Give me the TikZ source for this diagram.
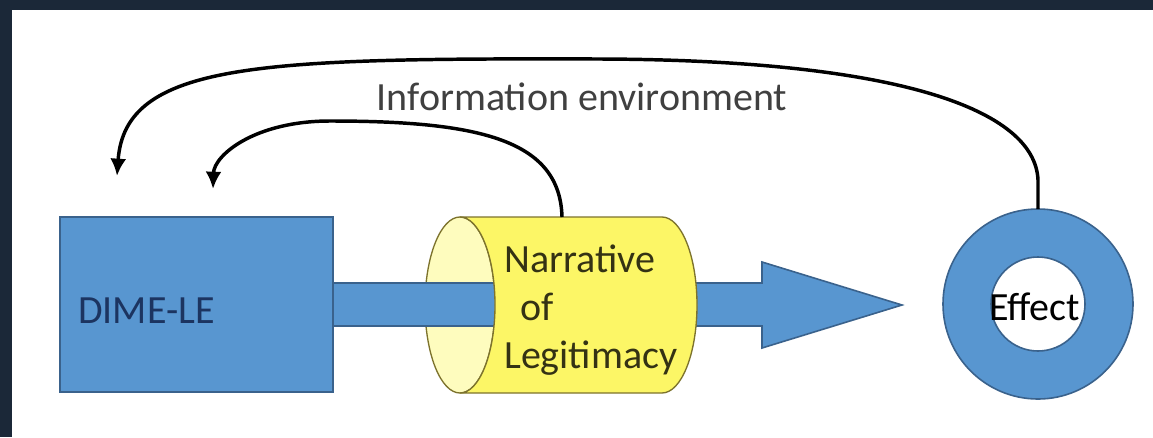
\documentclass[tikz,border=0pt]{standalone}
\usepackage{fontspec}
\setmainfont{Carlito}
\usetikzlibrary{arrows.meta}

\definecolor{frameNavy}{RGB}{27,40,56}
\definecolor{boxBlue}{RGB}{88,150,208}
\definecolor{boxEdge}{RGB}{58,98,140}
\definecolor{cylBody}{RGB}{252,246,102}
\definecolor{cylFace}{RGB}{254,252,190}
\definecolor{cylEdge}{RGB}{125,115,45}
\definecolor{dimeInk}{RGB}{28,52,96}
\definecolor{narrInk}{RGB}{52,50,20}
\definecolor{infoInk}{RGB}{64,64,64}

\tikzset{
  label30/.style={inner sep=0.75pt, font=\fontsize{30}{36}\selectfont},
  loopline/.style={line width=2.6pt, black, -{Latex[length=13pt,width=12pt]}}
}

\begin{document}
\begin{tikzpicture}[x=0.75pt,y=0.75pt,yscale=-1,xscale=1]
\useasboundingbox (0,0) rectangle (1153,437);

%Shape: Frame
\fill [white] (0,0) rectangle (1153,437);
\fill [frameNavy] (0,0) rectangle (1153,10);
\fill [frameNavy] (0,0) rectangle (12,437);

%Shape: Rectangle [DIME-LE]
\draw [boxEdge, fill=boxBlue, line width=1.2pt] (60,217) rectangle (333,392);

%Shape: Ellipse [cylinder face]
\draw [cylEdge, fill=cylFace, line width=1pt] (460,305) ellipse (35 and 88);

%Shape: Right Arrow
\draw [boxEdge, fill=boxBlue, line width=1.2pt] (333,283) -- (762,283) -- (762,262) -- (902,305) -- (762,348) -- (762,326) -- (333,326) -- cycle ;

%Shape: Can [cylinder body]
\draw [cylEdge, fill=cylBody, line width=1pt] (460,217) .. controls (479.33,217) and (495,256.4) .. (495,305) .. controls (495,353.6) and (479.33,393) .. (460,393) -- (662,393) .. controls (681.33,393) and (697,353.6) .. (697,305) .. controls (697,256.4) and (681.33,217) .. (662,217) -- cycle ;

%Shape: Donut [Effect]
\draw [boxEdge, fill=boxBlue, line width=1.2pt, even odd rule] (1038,304) circle (95) (1038,304) circle (47) ;

%Anchor points
\coordinate (narrTop) at (562,217);
\coordinate (effTop) at (1038,209);
\coordinate (dimeNear) at (213,189);
\coordinate (dimeFar) at (117,176);

%Curve Lines
\draw [loopline] (narrTop) .. controls (560,140) and (480,121) .. (330,121) .. controls (255,121) and (214,155) .. (dimeNear) ;
\draw [loopline] (effTop) -- (1038,180) .. controls (1035,110) and (900,60) .. (600,59) .. controls (260,58) and (125,62) .. (dimeFar) ;

% Text Node
\draw (77,323) node [anchor=base west] [label30, text=dimeInk] (dimeLabel) {DIME-LE};
% Text Node
\draw (503,368) node [anchor=base west] [label30, text=narrInk, align=left] (narrLabel) {Narrative\\\hspace{12pt}of\\Legitimacy};
% Text Node
\draw (988,320) node [anchor=base west] [label30, text=black] (effLabel) {Effect};
% Text Node
\draw (582,110) node [anchor=base] [label30, text=infoInk] (infoLabel) {Information environment};

\end{tikzpicture}
\end{document}
